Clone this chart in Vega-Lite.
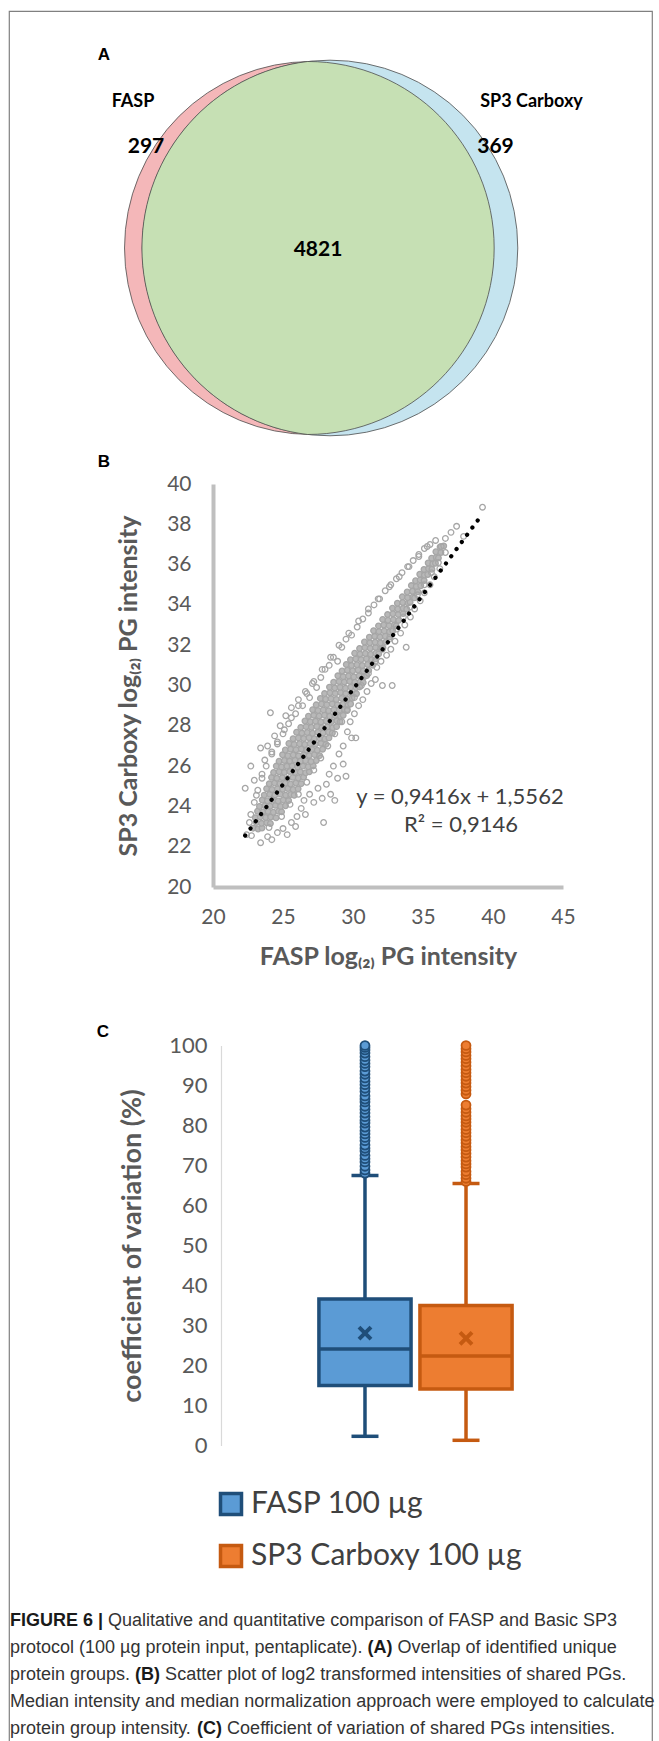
{
 "$schema": "https://vega.github.io/schema/vega-lite/v6.json",
 "width": 643, "height": 1740,
 "autosize": {"type": "none"},
 "padding": {"left": 9, "top": 11, "right": 7, "bottom": 0},
 "background": "white",
 "config": {"view": {"stroke": "#808080", "strokeWidth": 1.2}, "font": "Lato",
   "axis": {"grid": false, "ticks": false, "tickSize": 0, "labelFlush": false, "labelOverlap": false, "labelBound": false}},
 "datasets": {
  "vennSets": [{"set": "FASP", "total": 5118, "x": 46.97, "y": 13.62}, {"set": "SP3 Carboxy", "total": 5190, "x": 49.92, "y": 13.62}],
  "vennShared": [{"region": "FASP and SP3 Carboxy", "count": 4821, "x": 48.44, "y": 13.62}],
  "vennLabels": [
   {"t": "FASP", "kind": "set", "x": 19.28, "y": 5.23},
   {"t": "SP3 Carboxy", "kind": "set", "x": 81.26, "y": 5.23},
   {"t": "297", "kind": "count", "x": 21.31, "y": 7.82},
   {"t": "369", "kind": "count", "x": 75.66, "y": 7.82},
   {"t": "4821", "kind": "count", "x": 48.06, "y": 13.74}],
  "panelLetters": [{"t": "A", "x": 14.77, "y": 2.53}, {"t": "B", "x": 14.77, "y": 25.92}, {"t": "C", "x": 14.62, "y": 58.68}],
  "captionBold": [
   {"t": "FIGURE 6 |", "x": 0.16, "y": 92.53},
   {"t": "(A)", "x": 55.75, "y": 94.08},
   {"t": "(B)", "x": 19.61, "y": 95.63},
   {"t": "(C)", "x": 29.25, "y": 98.74}],
  "captionRegular": [
   {"t": "Qualitative and quantitative comparison of FASP and Basic SP3", "x": 15.41, "y": 92.53},
   {"t": "protocol (100 µg protein input, pentaplicate).", "x": 0.16, "y": 94.08},
   {"t": "Overlap of identified unique", "x": 60.42, "y": 94.08},
   {"t": "protein groups.", "x": 0.16, "y": 95.63},
   {"t": "Scatter plot of log2 transformed intensities of shared PGs.", "x": 24.28, "y": 95.63},
   {"t": "Median intensity and median normalization approach were employed to calculate", "x": 0.16, "y": 97.18},
   {"t": "protein group intensity.", "x": 0.16, "y": 98.74},
   {"t": "Coefficient of variation of shared PGs intensities.", "x": 33.92, "y": 98.74}],
  "trend": [{"x": 22.3, "y": 22.55}, {"x": 39.05, "y": 38.33}],
  "equation": [{"t": "y = 0,9416x + 1,5562", "x": 37.64, "y": 24.47}, {"t": "R² = 0,9146", "x": 37.71, "y": 23.08}],
  "boxes": [
   {"group": "FASP 100 µg", "lower": 2.3, "q1": 15.0, "median": 24.1, "q3": 36.6, "upper": 67.5, "mean": 28.1},
   {"group": "SP3 Carboxy 100 µg", "lower": 1.3, "q1": 14.1, "median": 22.4, "q3": 35.0, "upper": 65.5, "mean": 26.8}],
  "outliers": [
   {"group": "FASP 100 µg", "v": 68.1}, {"group": "FASP 100 µg", "v": 68.9}, {"group": "FASP 100 µg", "v": 69.8}, {"group": "FASP 100 µg", "v": 70.9}, {"group": "FASP 100 µg", "v": 71.7}, {"group": "FASP 100 µg", "v": 72.5}, {"group": "FASP 100 µg", "v": 73.6}, {"group": "FASP 100 µg", "v": 74.3}, {"group": "FASP 100 µg", "v": 75.1}, {"group": "FASP 100 µg", "v": 76.2}, {"group": "FASP 100 µg", "v": 77.0}, {"group": "FASP 100 µg", "v": 77.9}, {"group": "FASP 100 µg", "v": 78.7}, {"group": "FASP 100 µg", "v": 79.6}, {"group": "FASP 100 µg", "v": 80.6}, {"group": "FASP 100 µg", "v": 81.3}, {"group": "FASP 100 µg", "v": 82.2}, {"group": "FASP 100 µg", "v": 83.1}, {"group": "FASP 100 µg", "v": 84.0}, {"group": "FASP 100 µg", "v": 84.8}, {"group": "FASP 100 µg", "v": 85.9}, {"group": "FASP 100 µg", "v": 86.6}, {"group": "FASP 100 µg", "v": 87.4}, {"group": "FASP 100 µg", "v": 88.5}, {"group": "FASP 100 µg", "v": 89.3}, {"group": "FASP 100 µg", "v": 90.2}, {"group": "FASP 100 µg", "v": 91.0}, {"group": "FASP 100 µg", "v": 91.9}, {"group": "FASP 100 µg", "v": 92.8}, {"group": "FASP 100 µg", "v": 93.6}, {"group": "FASP 100 µg", "v": 94.7}, {"group": "FASP 100 µg", "v": 95.5}, {"group": "FASP 100 µg", "v": 96.3}, {"group": "FASP 100 µg", "v": 97.2}, {"group": "FASP 100 µg", "v": 98.1}, {"group": "FASP 100 µg", "v": 98.9}, {"group": "FASP 100 µg", "v": 99.5}, {"group": "FASP 100 µg", "v": 100},
   {"group": "SP3 Carboxy 100 µg", "v": 66.0}, {"group": "SP3 Carboxy 100 µg", "v": 66.8}, {"group": "SP3 Carboxy 100 µg", "v": 67.7}, {"group": "SP3 Carboxy 100 µg", "v": 68.5}, {"group": "SP3 Carboxy 100 µg", "v": 69.6}, {"group": "SP3 Carboxy 100 µg", "v": 70.4}, {"group": "SP3 Carboxy 100 µg", "v": 71.2}, {"group": "SP3 Carboxy 100 µg", "v": 72.1}, {"group": "SP3 Carboxy 100 µg", "v": 73.0}, {"group": "SP3 Carboxy 100 µg", "v": 73.9}, {"group": "SP3 Carboxy 100 µg", "v": 74.7}, {"group": "SP3 Carboxy 100 µg", "v": 75.6}, {"group": "SP3 Carboxy 100 µg", "v": 76.4}, {"group": "SP3 Carboxy 100 µg", "v": 77.3}, {"group": "SP3 Carboxy 100 µg", "v": 78.2}, {"group": "SP3 Carboxy 100 µg", "v": 79.0}, {"group": "SP3 Carboxy 100 µg", "v": 79.9}, {"group": "SP3 Carboxy 100 µg", "v": 80.8}, {"group": "SP3 Carboxy 100 µg", "v": 81.6}, {"group": "SP3 Carboxy 100 µg", "v": 82.4}, {"group": "SP3 Carboxy 100 µg", "v": 83.3}, {"group": "SP3 Carboxy 100 µg", "v": 84.2}, {"group": "SP3 Carboxy 100 µg", "v": 85.1}, {"group": "SP3 Carboxy 100 µg", "v": 87.9}, {"group": "SP3 Carboxy 100 µg", "v": 88.8}, {"group": "SP3 Carboxy 100 µg", "v": 89.7}, {"group": "SP3 Carboxy 100 µg", "v": 90.6}, {"group": "SP3 Carboxy 100 µg", "v": 91.4}, {"group": "SP3 Carboxy 100 µg", "v": 92.3}, {"group": "SP3 Carboxy 100 µg", "v": 93.2}, {"group": "SP3 Carboxy 100 µg", "v": 94.0}, {"group": "SP3 Carboxy 100 µg", "v": 94.9}, {"group": "SP3 Carboxy 100 µg", "v": 95.8}, {"group": "SP3 Carboxy 100 µg", "v": 96.7}, {"group": "SP3 Carboxy 100 µg", "v": 97.5}, {"group": "SP3 Carboxy 100 µg", "v": 98.4}, {"group": "SP3 Carboxy 100 µg", "v": 99.2}, {"group": "SP3 Carboxy 100 µg", "v": 100}],
  "scatterCore": [
   {"x":22.87,"y":22.92},{"x":23.22,"y":22.88},{"x":23.5,"y":22.93},
   {"x":23.1,"y":23.2},{"x":23.47,"y":23.16},{"x":23.84,"y":23.19},{"x":24.1,"y":23.15},
   {"x":23.02,"y":23.44},{"x":23.38,"y":23.48},{"x":23.76,"y":23.45},{"x":24.12,"y":23.47},{"x":24.5,"y":23.43},
   {"x":23.18,"y":23.76},{"x":23.56,"y":23.72},{"x":23.93,"y":23.75},{"x":24.31,"y":23.71},{"x":24.68,"y":23.76},{"x":24.9,"y":23.73},
   {"x":23.32,"y":24.0},{"x":23.71,"y":24.04},{"x":24.08,"y":24.01},{"x":24.46,"y":24.05},{"x":24.83,"y":24.0},{"x":25.18,"y":24.03},
   {"x":23.52,"y":24.32},{"x":23.89,"y":24.28},{"x":24.27,"y":24.31},{"x":24.65,"y":24.27},{"x":25.02,"y":24.32},{"x":25.4,"y":24.29},
   {"x":23.66,"y":24.56},{"x":24.05,"y":24.6},{"x":24.43,"y":24.57},{"x":24.81,"y":24.61},{"x":25.19,"y":24.56},{"x":25.56,"y":24.59},{"x":25.8,"y":24.55},
   {"x":23.83,"y":24.88},{"x":24.22,"y":24.84},{"x":24.6,"y":24.87},{"x":24.98,"y":24.85},{"x":25.35,"y":24.89},{"x":25.73,"y":24.84},{"x":26.08,"y":24.87},
   {"x":24.02,"y":25.12},{"x":24.4,"y":25.16},{"x":24.78,"y":25.13},{"x":25.16,"y":25.15},{"x":25.54,"y":25.11},{"x":25.92,"y":25.16},{"x":26.3,"y":25.13},
   {"x":24.18,"y":25.44},{"x":24.56,"y":25.4},{"x":24.95,"y":25.43},{"x":25.33,"y":25.39},{"x":25.71,"y":25.44},{"x":26.09,"y":25.41},{"x":26.47,"y":25.45},
   {"x":24.33,"y":25.68},{"x":24.72,"y":25.72},{"x":25.1,"y":25.69},{"x":25.48,"y":25.73},{"x":25.86,"y":25.68},{"x":26.24,"y":25.71},{"x":26.62,"y":25.67},{"x":26.88,"y":25.72},
   {"x":24.52,"y":26.0},{"x":24.9,"y":25.96},{"x":25.28,"y":25.99},{"x":25.66,"y":26.01},{"x":26.04,"y":25.96},{"x":26.42,"y":26.0},{"x":26.8,"y":25.97},{"x":27.16,"y":26.01},
   {"x":24.72,"y":26.24},{"x":25.1,"y":26.28},{"x":25.48,"y":26.25},{"x":25.86,"y":26.29},{"x":26.24,"y":26.24},{"x":26.62,"y":26.27},{"x":27.0,"y":26.23},{"x":27.38,"y":26.28},
   {"x":24.97,"y":26.56},{"x":25.35,"y":26.52},{"x":25.73,"y":26.55},{"x":26.11,"y":26.51},{"x":26.49,"y":26.56},{"x":26.87,"y":26.53},{"x":27.25,"y":26.57},{"x":27.62,"y":26.52},
   {"x":25.17,"y":26.8},{"x":25.55,"y":26.84},{"x":25.93,"y":26.81},{"x":26.31,"y":26.85},{"x":26.69,"y":26.8},{"x":27.07,"y":26.83},{"x":27.45,"y":26.79},{"x":27.83,"y":26.84},
   {"x":25.42,"y":27.12},{"x":25.8,"y":27.08},{"x":26.18,"y":27.11},{"x":26.56,"y":27.07},{"x":26.94,"y":27.12},{"x":27.32,"y":27.09},{"x":27.7,"y":27.13},{"x":28.07,"y":27.08},
   {"x":25.72,"y":27.36},{"x":26.1,"y":27.4},{"x":26.48,"y":27.37},{"x":26.86,"y":27.41},{"x":27.24,"y":27.36},{"x":27.62,"y":27.39},{"x":28.0,"y":27.35},{"x":28.28,"y":27.4},
   {"x":25.97,"y":27.68},{"x":26.35,"y":27.64},{"x":26.73,"y":27.67},{"x":27.11,"y":27.63},{"x":27.49,"y":27.68},{"x":27.87,"y":27.65},{"x":28.25,"y":27.69},{"x":28.53,"y":27.64},
   {"x":26.27,"y":27.92},{"x":26.65,"y":27.96},{"x":27.03,"y":27.93},{"x":27.41,"y":27.97},{"x":27.79,"y":27.92},{"x":28.17,"y":27.95},{"x":28.55,"y":27.91},{"x":28.83,"y":27.96},
   {"x":26.57,"y":28.24},{"x":26.95,"y":28.2},{"x":27.33,"y":28.23},{"x":27.71,"y":28.19},{"x":28.09,"y":28.24},{"x":28.47,"y":28.21},{"x":28.85,"y":28.25},{"x":29.08,"y":28.2},
   {"x":26.82,"y":28.48},{"x":27.2,"y":28.52},{"x":27.58,"y":28.49},{"x":27.96,"y":28.53},{"x":28.34,"y":28.48},{"x":28.72,"y":28.51},{"x":29.1,"y":28.47},{"x":29.3,"y":28.52},
   {"x":27.12,"y":28.8},{"x":27.5,"y":28.76},{"x":27.88,"y":28.79},{"x":28.26,"y":28.75},{"x":28.64,"y":28.8},{"x":29.02,"y":28.77},{"x":29.4,"y":28.81},{"x":29.58,"y":28.76},
   {"x":27.37,"y":29.04},{"x":27.75,"y":29.08},{"x":28.13,"y":29.05},{"x":28.51,"y":29.09},{"x":28.89,"y":29.04},{"x":29.27,"y":29.07},{"x":29.65,"y":29.03},{"x":29.83,"y":29.08},
   {"x":27.67,"y":29.36},{"x":28.05,"y":29.32},{"x":28.43,"y":29.35},{"x":28.81,"y":29.31},{"x":29.19,"y":29.36},{"x":29.57,"y":29.33},{"x":29.95,"y":29.37},
   {"x":27.97,"y":29.6},{"x":28.35,"y":29.64},{"x":28.73,"y":29.61},{"x":29.11,"y":29.65},{"x":29.49,"y":29.6},{"x":29.87,"y":29.63},{"x":30.25,"y":29.59},
   {"x":28.32,"y":29.92},{"x":28.7,"y":29.88},{"x":29.08,"y":29.91},{"x":29.46,"y":29.87},{"x":29.84,"y":29.92},{"x":30.22,"y":29.89},{"x":30.48,"y":29.93},
   {"x":28.62,"y":30.16},{"x":29.0,"y":30.2},{"x":29.38,"y":30.17},{"x":29.76,"y":30.21},{"x":30.14,"y":30.16},{"x":30.52,"y":30.19},{"x":30.73,"y":30.15},
   {"x":28.92,"y":30.48},{"x":29.3,"y":30.44},{"x":29.68,"y":30.47},{"x":30.06,"y":30.43},{"x":30.44,"y":30.48},{"x":30.82,"y":30.45},{"x":30.98,"y":30.49},
   {"x":29.22,"y":30.72},{"x":29.6,"y":30.76},{"x":29.98,"y":30.73},{"x":30.36,"y":30.77},{"x":30.74,"y":30.72},{"x":31.12,"y":30.75},
   {"x":29.52,"y":31.04},{"x":29.9,"y":31.0},{"x":30.28,"y":31.03},{"x":30.66,"y":30.99},{"x":31.04,"y":31.04},{"x":31.42,"y":31.01},
   {"x":29.82,"y":31.28},{"x":30.2,"y":31.32},{"x":30.58,"y":31.29},{"x":30.96,"y":31.33},{"x":31.34,"y":31.28},{"x":31.63,"y":31.31},
   {"x":30.12,"y":31.6},{"x":30.5,"y":31.56},{"x":30.88,"y":31.59},{"x":31.26,"y":31.55},{"x":31.64,"y":31.6},{"x":31.84,"y":31.57},
   {"x":30.47,"y":31.84},{"x":30.85,"y":31.88},{"x":31.23,"y":31.85},{"x":31.61,"y":31.89},{"x":31.99,"y":31.84},{"x":32.14,"y":31.87},
   {"x":30.82,"y":32.16},{"x":31.2,"y":32.12},{"x":31.58,"y":32.15},{"x":31.96,"y":32.11},{"x":32.34,"y":32.16},
   {"x":31.17,"y":32.4},{"x":31.55,"y":32.44},{"x":31.93,"y":32.41},{"x":32.31,"y":32.45},{"x":32.63,"y":32.4},
   {"x":31.47,"y":32.72},{"x":31.85,"y":32.68},{"x":32.23,"y":32.71},{"x":32.61,"y":32.67},{"x":32.84,"y":32.72},
   {"x":31.82,"y":32.96},{"x":32.2,"y":33.0},{"x":32.58,"y":32.97},{"x":32.96,"y":33.01},{"x":33.09,"y":32.96},
   {"x":32.12,"y":33.28},{"x":32.5,"y":33.24},{"x":32.88,"y":33.27},{"x":33.26,"y":33.23},
   {"x":32.47,"y":33.52},{"x":32.85,"y":33.56},{"x":33.23,"y":33.53},{"x":33.58,"y":33.57},
   {"x":32.82,"y":33.84},{"x":33.2,"y":33.8},{"x":33.58,"y":33.83},{"x":33.84,"y":33.79},
   {"x":33.17,"y":34.08},{"x":33.55,"y":34.12},{"x":33.93,"y":34.09},{"x":34.08,"y":34.13},
   {"x":33.52,"y":34.4},{"x":33.9,"y":34.36},{"x":34.28,"y":34.39},{"x":34.4,"y":34.35},
   {"x":33.87,"y":34.64},{"x":34.25,"y":34.68},{"x":34.63,"y":34.65},
   {"x":34.17,"y":34.96},{"x":34.52,"y":34.92},{"x":34.84,"y":34.95},
   {"x":34.47,"y":35.2},{"x":34.8,"y":35.24},{"x":35.08,"y":35.21},
   {"x":34.77,"y":35.52},{"x":35.1,"y":35.48},{"x":35.34,"y":35.51},
   {"x":35.07,"y":35.76},{"x":35.4,"y":35.8},{"x":35.64,"y":35.77},
   {"x":35.37,"y":36.08},{"x":35.7,"y":36.04},{"x":35.89,"y":36.07},
   {"x":35.62,"y":36.32},{"x":35.95,"y":36.36},{"x":36.1,"y":36.33},
   {"x":35.92,"y":36.64},{"x":36.28,"y":36.6},
   {"x":36.22,"y":36.88},{"x":36.48,"y":36.92}],
  "scatterHalo": [
   {"x":22.3,"y":24.9},{"x":22.7,"y":26.0},{"x":22.95,"y":25.3},{"x":23.1,"y":24.55},{"x":23.4,"y":26.9},{"x":23.5,"y":25.6},{"x":23.7,"y":26.3},{"x":23.9,"y":27.0},{"x":24.1,"y":28.65},{"x":24.2,"y":26.7},{"x":24.4,"y":27.5},{"x":24.6,"y":27.1},{"x":24.8,"y":28.0},{"x":25.0,"y":27.6},{"x":25.2,"y":28.5},{"x":25.4,"y":28.1},{"x":25.6,"y":28.9},{"x":25.9,"y":28.6},{"x":26.1,"y":29.3},{"x":26.4,"y":29.0},{"x":26.6,"y":29.7},{"x":26.9,"y":29.4},{"x":27.1,"y":30.1},{"x":27.4,"y":29.9},{"x":27.7,"y":30.4},{"x":28.0,"y":30.8},{"x":28.3,"y":31.0},{"x":28.6,"y":31.4},{"x":28.9,"y":31.2},{"x":29.2,"y":31.9},{"x":29.5,"y":32.3},{"x":29.9,"y":32.5},{"x":30.3,"y":32.9},{"x":30.7,"y":33.3},{"x":31.1,"y":33.6},{"x":31.5,"y":34.0},{"x":31.9,"y":34.3},{"x":32.3,"y":34.7},{"x":32.7,"y":35.0},{"x":33.1,"y":35.3},{"x":33.5,"y":35.6},{"x":33.9,"y":35.9},{"x":34.3,"y":36.2},{"x":34.7,"y":36.5},{"x":35.1,"y":36.8},{"x":35.5,"y":37.0},{"x":35.9,"y":37.2},{"x":36.3,"y":36.9},{"x":36.6,"y":37.3},{"x":37.0,"y":37.6},{"x":37.4,"y":37.9},{"x":37.9,"y":37.4},{"x":39.25,"y":38.85},
   {"x":22.4,"y":22.6},{"x":22.6,"y":23.2},{"x":22.75,"y":22.55},{"x":23.4,"y":22.2},{"x":23.9,"y":22.5},{"x":24.2,"y":22.35},{"x":24.6,"y":22.7},{"x":25.0,"y":22.9},{"x":25.3,"y":22.6},{"x":25.6,"y":23.2},{"x":25.9,"y":23.0},{"x":26.0,"y":23.5},{"x":26.3,"y":23.9},{"x":26.6,"y":23.6},{"x":26.5,"y":24.3},{"x":26.9,"y":24.6},{"x":27.2,"y":24.2},{"x":27.5,"y":24.9},{"x":27.8,"y":24.4},{"x":27.9,"y":23.2},{"x":28.1,"y":25.1},{"x":28.4,"y":24.6},{"x":28.7,"y":24.3},{"x":28.3,"y":25.6},{"x":28.6,"y":26.0},{"x":28.9,"y":25.4},{"x":29.3,"y":26.1},{"x":29.5,"y":25.5},{"x":29.0,"y":26.6},{"x":29.3,"y":27.0},{"x":29.9,"y":27.4},{"x":30.2,"y":27.4},{"x":29.6,"y":27.7},{"x":29.8,"y":28.2},{"x":30.1,"y":28.6},{"x":30.4,"y":29.0},{"x":30.7,"y":29.3},{"x":31.0,"y":29.7},{"x":31.3,"y":30.1},{"x":31.6,"y":30.3},{"x":31.7,"y":30.9},{"x":32.1,"y":30.0},{"x":32.8,"y":30.0},{"x":32.0,"y":31.2},{"x":32.4,"y":31.5},{"x":32.7,"y":31.8},{"x":33.0,"y":32.2},{"x":33.4,"y":32.6},{"x":33.8,"y":31.9},{"x":33.7,"y":33.0},{"x":34.1,"y":33.4},{"x":34.4,"y":33.8},{"x":34.8,"y":34.2},{"x":35.1,"y":34.6},{"x":35.5,"y":35.0},{"x":35.8,"y":35.4},{"x":36.2,"y":35.8},
   {"x":22.7,"y":23.6},{"x":22.95,"y":24.2},{"x":23.2,"y":24.8},{"x":23.5,"y":25.4},{"x":23.8,"y":26.0},{"x":24.2,"y":26.6},{"x":24.6,"y":27.2},{"x":25.1,"y":27.8},{"x":25.6,"y":28.4},{"x":26.1,"y":29.0},{"x":26.7,"y":29.6},{"x":27.2,"y":30.2},{"x":27.8,"y":30.8},{"x":28.4,"y":31.4},{"x":29.0,"y":32.0},{"x":29.7,"y":32.6},{"x":30.4,"y":33.2},{"x":31.1,"y":33.8},{"x":31.8,"y":34.3},{"x":32.6,"y":34.9},{"x":33.3,"y":35.4},{"x":34.0,"y":35.9},{"x":34.7,"y":36.4},{"x":35.3,"y":36.9},
   {"x":24.0,"y":22.95},{"x":24.9,"y":23.5},{"x":25.5,"y":24.1},{"x":26.1,"y":24.6},{"x":26.7,"y":25.2},{"x":27.2,"y":25.8},{"x":27.7,"y":26.4},{"x":28.2,"y":27.0},{"x":28.7,"y":27.6},{"x":29.2,"y":28.2},{"x":29.6,"y":28.8},{"x":30.1,"y":29.4},{"x":30.6,"y":30.0},{"x":31.1,"y":30.6},{"x":31.6,"y":31.2},{"x":32.1,"y":31.8},{"x":32.6,"y":32.3},{"x":33.1,"y":32.8},{"x":33.6,"y":33.4},{"x":34.1,"y":33.9},{"x":34.6,"y":34.5},{"x":35.1,"y":35.0},{"x":35.6,"y":35.6},{"x":36.1,"y":36.1},{"x":36.6,"y":36.6}]
 },
 "layer": [
  {"data": {"name": "vennSets"},
   "mark": {"type": "point", "shape": "circle", "filled": true, "opacity": 1, "stroke": "#4d4d4d", "strokeWidth": 0.8},
   "encoding": {
    "x": {"field": "x", "type": "quantitative", "scale": {"domain": [0, 100], "range": [0, 643], "nice": false, "zero": false}, "axis": null},
    "y": {"field": "y", "type": "quantitative", "scale": {"domain": [0, 100], "range": [0, 1740], "nice": false, "zero": false}, "axis": null},
    "fill": {"field": "set", "type": "nominal", "scale": {"domain": ["FASP", "SP3 Carboxy"], "range": ["#f4b7b9", "#c5e4ef"]}, "legend": null},
    "size": {"field": "total", "type": "quantitative", "scale": {"domain": [0, 5118], "range": [0, 139129]}, "legend": null}}},
  {"data": {"name": "vennShared"},
   "mark": {"type": "point", "shape": "M -12.8 -186.5 A 187.8 187.8 0 0 0 -12.8 186.5 A 186.5 186.5 0 1 0 -12.8 -186.5 Z", "size": 4, "filled": true, "fill": "#c6e0b4", "stroke": "#4d4d4d", "strokeWidth": 0.8, "opacity": 1},
   "encoding": {
    "x": {"field": "x", "type": "quantitative", "scale": {"domain": [0, 100], "range": [0, 643], "nice": false, "zero": false}, "axis": null},
    "y": {"field": "y", "type": "quantitative", "scale": {"domain": [0, 100], "range": [0, 1740], "nice": false, "zero": false}, "axis": null}}},
  {"data": {"name": "vennLabels"}, "transform": [{"filter": "datum.kind == 'set'"}],
   "mark": {"type": "text", "font": "Lato", "fontWeight": "bold", "fontSize": 18, "color": "#000000", "align": "center", "baseline": "middle"},
   "encoding": {
    "x": {"field": "x", "type": "quantitative", "scale": {"domain": [0, 100], "range": [0, 643], "nice": false, "zero": false}, "axis": null},
    "y": {"field": "y", "type": "quantitative", "scale": {"domain": [0, 100], "range": [0, 1740], "nice": false, "zero": false}, "axis": null},
    "text": {"field": "t", "type": "nominal"}}},
  {"data": {"name": "vennLabels"}, "transform": [{"filter": "datum.kind == 'count'"}],
   "mark": {"type": "text", "font": "Lato", "fontWeight": "bold", "fontSize": 21, "color": "#000000", "align": "center", "baseline": "middle"},
   "encoding": {
    "x": {"field": "x", "type": "quantitative", "scale": {"domain": [0, 100], "range": [0, 643], "nice": false, "zero": false}, "axis": null},
    "y": {"field": "y", "type": "quantitative", "scale": {"domain": [0, 100], "range": [0, 1740], "nice": false, "zero": false}, "axis": null},
    "text": {"field": "t", "type": "nominal"}}},
  {"data": {"name": "panelLetters"},
   "mark": {"type": "text", "font": "Liberation Sans", "fontWeight": "bold", "fontSize": 17, "color": "#000000", "align": "center", "baseline": "middle"},
   "encoding": {
    "x": {"field": "x", "type": "quantitative", "scale": {"domain": [0, 100], "range": [0, 643], "nice": false, "zero": false}, "axis": null},
    "y": {"field": "y", "type": "quantitative", "scale": {"domain": [0, 100], "range": [0, 1740], "nice": false, "zero": false}, "axis": null},
    "text": {"field": "t", "type": "nominal"}}},
  {"data": {"name": "captionRegular"},
   "mark": {"type": "text", "font": "Liberation Sans", "fontSize": 18, "color": "#333333", "align": "left", "baseline": "middle"},
   "encoding": {
    "x": {"field": "x", "type": "quantitative", "scale": {"domain": [0, 100], "range": [0, 643], "nice": false, "zero": false}, "axis": null},
    "y": {"field": "y", "type": "quantitative", "scale": {"domain": [0, 100], "range": [0, 1740], "nice": false, "zero": false}, "axis": null},
    "text": {"field": "t", "type": "nominal"}}},
  {"data": {"name": "captionBold"},
   "mark": {"type": "text", "font": "Liberation Sans", "fontWeight": "bold", "fontSize": 18, "color": "#1a1a1a", "align": "left", "baseline": "middle"},
   "encoding": {
    "x": {"field": "x", "type": "quantitative", "scale": {"domain": [0, 100], "range": [0, 643], "nice": false, "zero": false}, "axis": null},
    "y": {"field": "y", "type": "quantitative", "scale": {"domain": [0, 100], "range": [0, 1740], "nice": false, "zero": false}, "axis": null},
    "text": {"field": "t", "type": "nominal"}}},
  {"data": {"name": "scatterCore"},
   "mark": {"type": "point", "shape": "circle", "filled": false, "fill": "#b8b8b8", "size": 32, "strokeWidth": 1.3, "color": "#a6a6a6", "opacity": 1},
   "encoding": {
    "x": {"field": "x", "type": "quantitative", "scale": {"domain": [20, 45], "range": [204, 554], "nice": false, "zero": false},
          "axis": {"orient": "bottom", "offset": -864, "values": [20, 25, 30, 35, 40, 45], "domainColor": "#bfbfbf", "domainWidth": 4,
                   "labelFont": "Lato", "labelFontSize": 21, "labelColor": "#595959", "labelPadding": 19,
                   "title": "FASP log₍₂₎ PG intensity", "titleFont": "Lato", "titleFontSize": 25, "titleFontWeight": "bold", "titleColor": "#595959", "titlePadding": 17}},
    "y": {"field": "y", "type": "quantitative", "scale": {"domain": [20, 40], "range": [876, 473], "nice": false, "zero": false},
          "axis": {"orient": "left", "offset": -204, "values": [20, 22, 24, 26, 28, 30, 32, 34, 36, 38, 40], "domainColor": "#bfbfbf", "domainWidth": 4,
                   "labelFont": "Lato", "labelFontSize": 21, "labelColor": "#595959", "labelPadding": 22,
                   "title": "SP3 Carboxy log₍₂₎ PG intensity", "titleFont": "Lato", "titleFontSize": 25, "titleFontWeight": "bold", "titleColor": "#595959", "titlePadding": 25}}}},
  {"data": {"name": "scatterHalo"},
   "mark": {"type": "point", "shape": "circle", "filled": false, "size": 32, "strokeWidth": 1.3, "color": "#a6a6a6", "opacity": 1},
   "encoding": {
    "x": {"field": "x", "type": "quantitative", "scale": {"domain": [20, 45], "range": [204, 554], "nice": false, "zero": false}, "axis": null},
    "y": {"field": "y", "type": "quantitative", "scale": {"domain": [20, 40], "range": [876, 473], "nice": false, "zero": false}, "axis": null}}},
  {"data": {"name": "trend"},
   "mark": {"type": "line", "color": "#000000", "strokeWidth": 4.2, "strokeCap": "round", "strokeDash": [0.1, 8.8]},
   "encoding": {
    "x": {"field": "x", "type": "quantitative", "scale": {"domain": [20, 45], "range": [204, 554], "nice": false, "zero": false}, "axis": null},
    "y": {"field": "y", "type": "quantitative", "scale": {"domain": [20, 40], "range": [876, 473], "nice": false, "zero": false}, "axis": null}}},
  {"data": {"name": "equation"},
   "mark": {"type": "text", "font": "Lato", "fontSize": 22, "color": "#404040", "align": "center", "baseline": "middle"},
   "encoding": {
    "x": {"field": "x", "type": "quantitative", "scale": {"domain": [20, 45], "range": [204, 554], "nice": false, "zero": false}, "axis": null},
    "y": {"field": "y", "type": "quantitative", "scale": {"domain": [20, 40], "range": [876, 473], "nice": false, "zero": false}, "axis": null},
    "text": {"field": "t", "type": "nominal"}}},
  {"data": {"name": "boxes"},
   "mark": {"type": "rule", "strokeWidth": 3.5},
   "encoding": {
    "x": {"field": "group", "type": "nominal", "scale": {"type": "band", "domain": ["FASP 100 µg", "SP3 Carboxy 100 µg"], "range": [308, 505], "paddingInner": 0.05, "paddingOuter": 0}, "axis": null},
    "y": {"field": "lower", "type": "quantitative", "scale": {"domain": [0, 100], "range": [1434.5, 1034.5], "nice": false, "zero": false},
          "axis": {"orient": "left", "offset": -212, "values": [0, 10, 20, 30, 40, 50, 60, 70, 80, 90, 100], "domainColor": "#d9d9d9", "domainWidth": 1.2,
                   "labelFont": "Lato", "labelFontSize": 22, "labelColor": "#595959", "labelPadding": 14,
                   "title": "coefficient of variation (%)", "titleFont": "Lato", "titleFontSize": 27, "titleFontWeight": "bold", "titleColor": "#595959", "titlePadding": 22}},
    "y2": {"field": "upper"},
    "color": {"field": "group", "type": "nominal", "scale": {"domain": ["FASP 100 µg", "SP3 Carboxy 100 µg"], "range": ["#1f4e79", "#c55a11"]}, "legend": null}}},
  {"data": {"name": "boxes"},
   "mark": {"type": "tick", "size": 27, "thickness": 3.5, "opacity": 1},
   "encoding": {
    "x": {"field": "group", "type": "nominal", "scale": {"type": "band", "domain": ["FASP 100 µg", "SP3 Carboxy 100 µg"], "range": [308, 505], "paddingInner": 0.05, "paddingOuter": 0}, "axis": null},
    "y": {"field": "lower", "type": "quantitative", "scale": {"domain": [0, 100], "range": [1434.5, 1034.5], "nice": false, "zero": false}, "axis": null},
    "color": {"field": "group", "type": "nominal", "scale": {"domain": ["FASP 100 µg", "SP3 Carboxy 100 µg"], "range": ["#1f4e79", "#c55a11"]}, "legend": null}}},
  {"data": {"name": "boxes"},
   "mark": {"type": "tick", "size": 27, "thickness": 3.5, "opacity": 1},
   "encoding": {
    "x": {"field": "group", "type": "nominal", "scale": {"type": "band", "domain": ["FASP 100 µg", "SP3 Carboxy 100 µg"], "range": [308, 505], "paddingInner": 0.05, "paddingOuter": 0}, "axis": null},
    "y": {"field": "upper", "type": "quantitative", "scale": {"domain": [0, 100], "range": [1434.5, 1034.5], "nice": false, "zero": false}, "axis": null},
    "color": {"field": "group", "type": "nominal", "scale": {"domain": ["FASP 100 µg", "SP3 Carboxy 100 µg"], "range": ["#1f4e79", "#c55a11"]}, "legend": null}}},
  {"data": {"name": "boxes"},
   "mark": {"type": "bar", "strokeWidth": 3.5, "width": {"band": 0.96}},
   "encoding": {
    "x": {"field": "group", "type": "nominal", "scale": {"type": "band", "domain": ["FASP 100 µg", "SP3 Carboxy 100 µg"], "range": [308, 505], "paddingInner": 0.05, "paddingOuter": 0}, "axis": null},
    "y": {"field": "q1", "type": "quantitative", "scale": {"domain": [0, 100], "range": [1434.5, 1034.5], "nice": false, "zero": false}, "axis": null},
    "y2": {"field": "q3"},
    "fill": {"field": "group", "type": "nominal", "scale": {"domain": ["FASP 100 µg", "SP3 Carboxy 100 µg"], "range": ["#5b9bd5", "#ed7d31"]},
             "legend": {"title": null, "orient": "none", "legendX": 207, "legendY": 1478, "direction": "vertical", "symbolType": "square", "symbolSize": 441, "symbolStrokeWidth": 3.5, "labelFont": "Lato", "labelFontSize": 30, "labelColor": "#404040", "labelOffset": 5, "rowPadding": 16, "padding": 0, "labelLimit": 500}},
    "stroke": {"field": "group", "type": "nominal", "scale": {"domain": ["FASP 100 µg", "SP3 Carboxy 100 µg"], "range": ["#1f4e79", "#c55a11"]},
             "legend": {"title": null, "orient": "none", "legendX": 207, "legendY": 1478, "direction": "vertical", "symbolType": "square", "symbolSize": 441, "symbolStrokeWidth": 3.5, "labelFont": "Lato", "labelFontSize": 30, "labelColor": "#404040", "labelOffset": 5, "rowPadding": 16, "padding": 0, "labelLimit": 500}}}},
  {"data": {"name": "boxes"},
   "mark": {"type": "tick", "size": 92, "thickness": 3.5, "opacity": 1},
   "encoding": {
    "x": {"field": "group", "type": "nominal", "scale": {"type": "band", "domain": ["FASP 100 µg", "SP3 Carboxy 100 µg"], "range": [308, 505], "paddingInner": 0.05, "paddingOuter": 0}, "axis": null},
    "y": {"field": "median", "type": "quantitative", "scale": {"domain": [0, 100], "range": [1434.5, 1034.5], "nice": false, "zero": false}, "axis": null},
    "color": {"field": "group", "type": "nominal", "scale": {"domain": ["FASP 100 µg", "SP3 Carboxy 100 µg"], "range": ["#1f4e79", "#c55a11"]}, "legend": null}}},
  {"data": {"name": "boxes"},
   "mark": {"type": "point", "shape": "M -1 -1 L 1 1 M 1 -1 L -1 1", "size": 144, "filled": false, "strokeWidth": 4, "opacity": 1},
   "encoding": {
    "x": {"field": "group", "type": "nominal", "scale": {"type": "band", "domain": ["FASP 100 µg", "SP3 Carboxy 100 µg"], "range": [308, 505], "paddingInner": 0.05, "paddingOuter": 0}, "axis": null},
    "y": {"field": "mean", "type": "quantitative", "scale": {"domain": [0, 100], "range": [1434.5, 1034.5], "nice": false, "zero": false}, "axis": null},
    "color": {"field": "group", "type": "nominal", "scale": {"domain": ["FASP 100 µg", "SP3 Carboxy 100 µg"], "range": ["#1f4e79", "#c55a11"]}, "legend": null}}},
  {"data": {"name": "outliers"},
   "mark": {"type": "point", "shape": "circle", "size": 80, "filled": true, "strokeWidth": 1.8, "opacity": 1},
   "encoding": {
    "x": {"field": "group", "type": "nominal", "scale": {"type": "band", "domain": ["FASP 100 µg", "SP3 Carboxy 100 µg"], "range": [308, 505], "paddingInner": 0.05, "paddingOuter": 0}, "axis": null},
    "y": {"field": "v", "type": "quantitative", "scale": {"domain": [0, 100], "range": [1434.5, 1034.5], "nice": false, "zero": false}, "axis": null},
    "fill": {"field": "group", "type": "nominal", "scale": {"domain": ["FASP 100 µg", "SP3 Carboxy 100 µg"], "range": ["#5b9bd5", "#ed7d31"]}, "legend": null},
    "stroke": {"field": "group", "type": "nominal", "scale": {"domain": ["FASP 100 µg", "SP3 Carboxy 100 µg"], "range": ["#1f4e79", "#c55a11"]}, "legend": null}}}
 ],
 "resolve": {"scale": {"x": "independent", "y": "independent", "fill": "independent", "stroke": "independent", "color": "independent", "size": "independent"},
             "axis": {"x": "independent", "y": "independent"}}
}
